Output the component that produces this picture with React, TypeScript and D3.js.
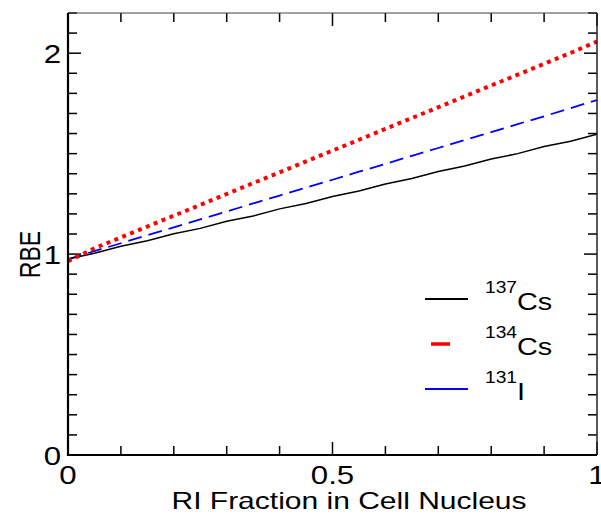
import React from "react";
import * as d3 from "d3";

const xValues = [0, 0.05, 0.1, 0.15, 0.2, 0.25, 0.3, 0.35, 0.4, 0.45, 0.5, 0.55, 0.6, 0.65, 0.7, 0.75, 0.8, 0.85, 0.9, 0.95, 1];
const cs137 = [0.975, 1.004, 1.039, 1.066, 1.101, 1.128, 1.163, 1.19, 1.225, 1.252, 1.287, 1.314, 1.349, 1.376, 1.411, 1.438, 1.473, 1.5, 1.535, 1.562, 1.597];
const cs134 = [0.965, 1.029, 1.083, 1.137, 1.191, 1.245, 1.299, 1.353, 1.407, 1.461, 1.515, 1.569, 1.623, 1.677, 1.731, 1.785, 1.839, 1.893, 1.947, 2.001, 2.058];
const i131 = [0.975, 1.015, 1.054, 1.094, 1.133, 1.173, 1.212, 1.252, 1.291, 1.331, 1.37, 1.41, 1.449, 1.489, 1.528, 1.568, 1.607, 1.647, 1.686, 1.726, 1.767];
const xTickLabels = [0, 0.5, 1];
const yTickLabels = [0, 1, 2];
const legendLabels = [
  { mass: "137", el: "Cs" },
  { mass: "134", el: "Cs" },
  { mass: "131", el: "I" },
];

const W = 601, H = 519;
const L = 68, R = 597, T = 13, B = 455;
const SX = 1.2;

export default function App() {
  const x = d3.scaleLinear().domain([0, 1]).range([L, R]);
  const y = d3.scaleLinear().domain([0, 2.2]).range([B, T]);
  const mk = (vals: number[]) =>
    d3.line<number>().x((_, i) => x(xValues[i])).y((v) => y(v))(vals) || "";
  const xMinor = d3.range(0, 11).map((i) => i / 10);
  const yMinor = d3.range(0, 23).map((i) => i / 10);
  const font = "'Liberation Sans', Arial, sans-serif";
  const series = [
    { vals: i131, color: "#0000ff", width: 1.8, dash: "14,7" },
    { vals: cs137, color: "#000000", width: 1.5, dash: "" },
    { vals: cs134, color: "#ff0000", width: 4, dash: "4,4.5" },
  ];
  const legend = [
    { color: "#000000", width: 2, x1: 425, x2: 468 },
    { color: "#ff0000", width: 3.5, x1: 431, x2: 450 },
    { color: "#0000ff", width: 2, x1: 425, x2: 468 },
  ];
  return (
    <svg width={W} height={H} style={{ position: "absolute", left: 0, top: 0, background: "#fff" }} fontFamily={font}>
      <defs>
        <clipPath id="clip">
          <rect x={L} y={T} width={R - L} height={B - T} />
        </clipPath>
      </defs>
      {/* ticks */}
      {xMinor.map((v, i) => {
        const major = i % 5 === 0;
        const len = major ? 13 : 9;
        return (
          <g key={"xt" + i} stroke="#000" strokeWidth={1.5}>
            <line x1={x(v)} x2={x(v)} y1={B} y2={B - len} />
            <line x1={x(v)} x2={x(v)} y1={T} y2={T + len} />
          </g>
        );
      })}
      {yMinor.map((v, i) => {
        const major = i % 10 === 0;
        const len = major ? 13 : 9;
        return (
          <g key={"yt" + i} stroke="#000" strokeWidth={1.5}>
            <line x1={L} x2={L + len} y1={y(v)} y2={y(v)} />
            <line x1={R} x2={R - len} y1={y(v)} y2={y(v)} />
          </g>
        );
      })}
      {/* series */}
      <g clipPath="url(#clip)">
        {series.map((s, i) => (
          <path key={i} d={mk(s.vals)} fill="none" stroke={s.color} strokeWidth={s.width} strokeDasharray={s.dash || undefined} />
        ))}
      </g>
      {/* frame */}
      <line x1={L} x2={R} y1={T} y2={T} stroke="#444" strokeWidth={1.2} />
      <line x1={R} x2={R} y1={T} y2={B} stroke="#222" strokeWidth={1.5} />
      <line x1={L} x2={L} y1={T} y2={B + 1} stroke="#000" strokeWidth={2.2} />
      <line x1={L - 1} x2={R} y1={B} y2={B} stroke="#000" strokeWidth={2.2} />
      {/* tick labels */}
      {xTickLabels.map((v) => (
        <g key={"xl" + v} transform={`translate(${x(v)}, 484) scale(${SX},1)`}>
          <text textAnchor="middle" fontSize={26} fill="#000">
            {v}
          </text>
        </g>
      ))}
      {yTickLabels.map((v) => (
        <g key={"yl" + v} transform={`translate(${L - 7}, ${y(v) + 9.5}) scale(${SX},1)`}>
          <text textAnchor="end" fontSize={26} fill="#000">
            {v}
          </text>
        </g>
      ))}
      {/* axis titles */}
      <g transform={`translate(349, 509) scale(1.25,1)`}>
        <text textAnchor="middle" fontSize={24} fill="#000">
          RI Fraction in Cell Nucleus
        </text>
      </g>
      <g transform={`translate(39.5, 254.5) scale(1.3,1) rotate(-90)`}>
        <text textAnchor="middle" fontSize={23} fill="#000">
          RBE
        </text>
      </g>
      {/* legend */}
      {legendLabels.map((lab, i) => {
        const ly = 299 + i * 45;
        const lg = legend[i];
        return (
          <g key={"lg" + i}>
            <line x1={lg.x1} x2={lg.x2} y1={ly} y2={ly} stroke={lg.color} strokeWidth={lg.width} />
            <g transform={`translate(485, ${ly + 11}) scale(${SX},1)`}>
              <text fontSize={24} fill="#000">
                <tspan fontSize={16} dy={-17}>{lab.mass}</tspan>
                <tspan dy={17}>{lab.el}</tspan>
              </text>
            </g>
          </g>
        );
      })}
    </svg>
  );
}
